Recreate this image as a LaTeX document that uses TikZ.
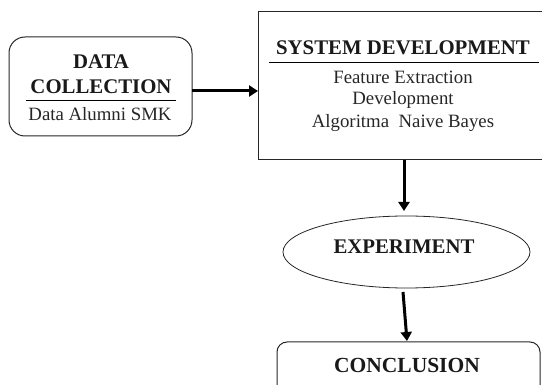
\documentclass[tikz,border=0pt]{standalone}
\usepackage{fontspec}
\setmainfont{Liberation Serif}
\usetikzlibrary{arrows.meta,shapes.geometric}
\begin{document}
\begin{tikzpicture}[x=1pt,y=-1pt,
  boxline/.style={draw=black!85,line width=1pt},
  flowarrow/.style={draw=black,line width=3pt,-{Triangle[length=9pt,width=11pt]}},
  headtext/.style={font=\fontsize{20.8}{23}\selectfont\bfseries,inner sep=0pt,text=black!90},
  bodytext/.style={font=\fontsize{18.8}{21}\selectfont,inner sep=0pt,text=black!85}]
\useasboundingbox (0,0) rectangle (542,385);
\clip (0,0) rectangle (542,385);
% Data collection
\node[boxline,rounded corners=16pt,minimum width=183pt,minimum height=99pt] (dc) at (100.5,86.5) {};
\node[headtext] (dct1) at (101,62) {DATA};
\node[headtext] (dct2) at (101,87) {COLLECTION};
\draw[line width=1pt] (26,101) coordinate (dcl1) -- (176,101) coordinate (dcl2);
\node[bodytext] (dcb) at (100,114) {Data Alumni SMK};
% System development
\draw[boxline] (258,12) rectangle (560,160);
\coordinate (sdleft) at (258,91);
\coordinate (sdbottom) at (404,160);
\node[headtext] (sdt) at (403,48) {SYSTEM DEVELOPMENT};
\draw[line width=1pt] (269,63) coordinate (sdl1) -- (539,63) coordinate (sdl2);
\node[bodytext] (sdb1) at (403,77) {Feature Extraction};
\node[bodytext] (sdb2) at (403,100) {Development};
\node[bodytext] (sdb3) at (403,123) {Algoritma\ \ Naive Bayes};
% Experiment
\node[boxline,ellipse,minimum width=247pt,minimum height=72pt,line width=0.8pt] (ex) at (406.5,252) {};
\node[headtext] (ext) at (404,247) {EXPERIMENT};
% Conclusion
\draw[boxline,rounded corners=10pt] (277,400) -- (277,342) -- (540,342) -- (540,400);
\coordinate (cotop) at (407,341);
\node[headtext,font=\fontsize{21.5}{24}\selectfont\bfseries] (cot) at (407,365) {CONCLUSION};
% arrows
\draw[flowarrow] (192,91) -- (sdleft);
\draw[flowarrow] (sdbottom) -- (404,211);
\coordinate (exb) at (403,292);
\draw[flowarrow] (exb) -- (cotop);
\end{tikzpicture}
\end{document}
